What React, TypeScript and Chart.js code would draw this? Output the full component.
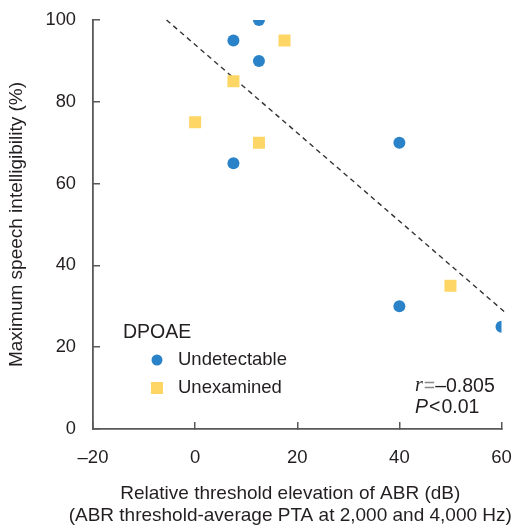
import React, { useEffect, useRef } from "react";
import { Chart, registerables } from "chart.js";

Chart.register(...registerables);

// ---- data ----
const undetectableX = [12.5, 7.5, 12.5, 7.5, 40, 40, 60];
const undetectableY = [100, 95, 90, 65, 70, 30, 25];
const unexaminedX = [17.5, 7.5, 0, 12.5, 50];
const unexaminedY = [95, 85, 75, 70, 35];
const fitLineX = [-5.6, 61];
const fitLineY = [100, 28.2];
const xTicks = [-20, 0, 20, 40, 60];
const yTicks = [0, 20, 40, 60, 80, 100];
const legendTitle = "DPOAE";
const seriesNames = ["Undetectable", "Unexamined"];
const xTitle = [
  "Relative threshold elevation of ABR (dB)",
  "(ABR threshold-average PTA at 2,000 and 4,000 Hz)",
];
const yTitle = "Maximum speech intelligibility (%)";
const rValue = "\u20130.805";
const pValue = "0.01";

const BLUE = "#2A83C8";
const YELLOW = "#FDD666";
const TEXT = "#231F20";
const AXIS = "#58595B";
const SANS = '"Liberation Sans", Arial, sans-serif';

const toPts = (xs: number[], ys: number[]) => xs.map((x, i) => ({ x, y: ys[i] }));

const zeroPad = (s: any) => {
  s.paddingTop = 0;
  s.paddingBottom = 0;
  s.paddingLeft = 0;
  s.paddingRight = 0;
};

const overlayPlugin = {
  id: "overlay",
  afterDraw(chart: any) {
    const ctx = chart.ctx as CanvasRenderingContext2D;
    ctx.save();
    ctx.fillStyle = TEXT;
    ctx.textBaseline = "middle";
    // x-axis title (two lines, not width-limited)
    ctx.textAlign = "center";
    ctx.font = `19px ${SANS}`;
    const cx = (chart.chartArea.left + chart.chartArea.right) / 2 - 7;
    ctx.fillText(xTitle[0], cx, 494);
    ctx.fillText(xTitle[1], cx, 516);
    ctx.textAlign = "left";
    // legend
    ctx.font = `19.5px ${SANS}`;
    ctx.fillText(legendTitle, 123, 333);
    ctx.fillStyle = BLUE;
    ctx.beginPath();
    ctx.arc(157, 360, 5.5, 0, Math.PI * 2);
    ctx.fill();
    ctx.fillStyle = YELLOW;
    ctx.fillRect(151, 382, 12, 12);
    ctx.fillStyle = TEXT;
    ctx.font = `18.5px ${SANS}`;
    ctx.fillText(seriesNames[0], 178, 360);
    ctx.fillText(seriesNames[1], 178, 388);
    // annotation
    let x = 415;
    ctx.font = `italic 20px "Liberation Serif", serif`;
    ctx.fillText("r", x, 386);
    x += ctx.measureText("r").width + 1;
    ctx.font = `19.5px ${SANS}`;
    ctx.fillStyle = "#8a8a8a";
    ctx.fillText("=", x, 387);
    x += ctx.measureText("=").width;
    ctx.fillStyle = TEXT;
    ctx.fillText(rValue, x, 387);
    x = 415;
    ctx.font = `italic 19.5px ${SANS}`;
    ctx.fillText("P", x, 408);
    x += ctx.measureText("P").width + 1;
    ctx.font = `19.5px ${SANS}`;
    ctx.fillText("<", x, 408);
    x += ctx.measureText("<").width + 1;
    ctx.fillText(pValue, x, 408);
    ctx.restore();
  },
};

export default function App() {
  const ref = useRef<HTMLCanvasElement>(null);
  useEffect(() => {
    const canvas = ref.current;
    if (!canvas) return;
    const chart = new Chart(canvas, {
      type: "scatter",
      data: {
        datasets: [
          {
            label: seriesNames[0],
            data: toPts(undetectableX, undetectableY),
            backgroundColor: BLUE,
            borderColor: BLUE,
            borderWidth: 0,
            pointStyle: "circle",
            pointRadius: 6,
          },
          {
            label: seriesNames[1],
            data: toPts(unexaminedX, unexaminedY),
            backgroundColor: YELLOW,
            borderColor: YELLOW,
            borderWidth: 0,
            pointStyle: "rect",
            pointRadius: 8.5,
          },
          {
            type: "line",
            label: "fit",
            data: toPts(fitLineX, fitLineY),
            borderColor: "#333",
            borderWidth: 1.4,
            borderDash: [5, 4],
            pointRadius: 0,
            showLine: true,
            fill: false,
            clip: false,
          } as any,
        ],
      },
      options: {
        responsive: false,
        animation: false,
        devicePixelRatio: 1,
        events: [],
        layout: { autoPadding: false, padding: { top: 20, right: 11.5, left: 0, bottom: 0 } },
        plugins: { legend: { display: false }, tooltip: { enabled: false } },
        scales: {
          x: {
            type: "linear",
            min: -20,
            max: 60,
            afterBuildTicks: (s: any) => {
              s.ticks = xTicks.map((v) => ({ value: v }));
            },
            afterFit: (s: any) => {
              s.height = 98;
              zeroPad(s);
            },
            ticks: {
              color: TEXT,
              font: { family: SANS, size: 18.5 },
              padding: 25,
              maxRotation: 0,
              callback: (v: any) => (Number(v) < 0 ? "\u2013" + Math.abs(Number(v)) : String(v)),
            },
            grid: {
              drawOnChartArea: false,
              drawTicks: true,
              tickLength: -7,
              color: AXIS,
              lineWidth: 1.5,
            },
            border: { display: true, color: AXIS, width: 1.8 },
            title: { display: false },
          },
          y: {
            type: "linear",
            min: 0,
            max: 100,
            afterBuildTicks: (s: any) => {
              s.ticks = yTicks.map((v) => ({ value: v }));
            },
            afterFit: (s: any) => {
              s.width = 93;
              zeroPad(s);
            },
            ticks: {
              color: TEXT,
              font: { family: SANS, size: 18.3 },
              padding: 24,
            },
            grid: {
              drawOnChartArea: false,
              drawTicks: true,
              tickLength: -7,
              color: AXIS,
              lineWidth: 1.5,
            },
            border: { display: true, color: AXIS, width: 1.8 },
            title: {
              display: true,
              text: yTitle,
              color: TEXT,
              font: { family: SANS, size: 19, lineHeight: "22px" },
              padding: { top: 6, bottom: 0 },
            },
          },
        },
      },
      plugins: [overlayPlugin],
    });
    return () => chart.destroy();
  }, []);
  return (
    <div style={{ position: "fixed", left: 0, top: 0, width: 513, height: 527, background: "#fff" }}>
      <canvas ref={ref} width={513} height={527} style={{ display: "block" }} />
    </div>
  );
}
